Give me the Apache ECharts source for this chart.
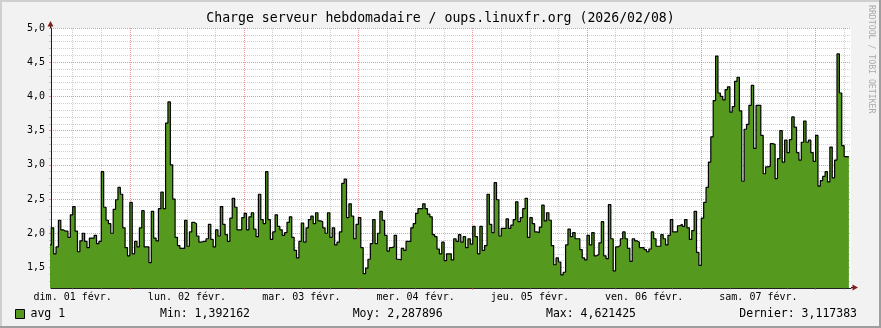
<!DOCTYPE html>
<html><head><meta charset="utf-8">
<script src="https://cdn.jsdelivr.net/npm/echarts@6/dist/echarts.min.js"></script>
<style>html,body{margin:0;padding:0;background:#F2F2F2;}#c{width:881px;height:328px;}</style>
</head><body><div id="c"></div>
<script>
// ---- data (hours counted from Sun 01 Feb 2026 00:00) ----
const startHour = 7.0;      // first (partial) 30-min sample
const stepHours = 0.5;
const loadValues = [
1.83,
2.08,1.70,1.80,2.19,2.05,2.03,2.03,1.94,2.27,2.39,2.03,1.73,1.89,2.00,1.88,1.79,1.93,1.93,1.97,1.85,
1.88,2.90,2.38,2.19,2.14,2.00,2.35,2.49,2.67,2.57,2.08,1.79,1.67,2.45,1.70,1.88,1.80,2.08,2.33,1.80,
1.80,1.57,2.32,1.93,1.89,2.36,2.60,2.36,3.61,3.92,3.00,2.50,1.94,1.82,1.78,1.78,
2.19,1.81,2.02,2.16,2.14,1.96,1.87,1.88,1.88,1.92,2.13,1.91,1.80,2.05,1.96,2.39,2.13,1.98,1.88,2.22,
2.51,2.38,2.05,2.05,2.23,2.29,2.05,2.24,2.30,2.06,1.95,2.57,2.20,2.14,2.90,2.20,1.91,2.02,2.27,2.10,
2.05,1.97,2.01,2.16,2.24,1.94,1.75,1.64,1.88,2.15,1.87,2.08,2.20,2.25,2.14,2.30,
2.18,2.17,2.08,2.00,2.30,1.94,2.08,1.83,1.87,2.02,2.73,2.79,2.23,2.43,2.25,1.92,2.13,2.23,1.79,1.41,
1.49,1.62,1.85,2.20,1.85,2.00,2.32,2.19,1.97,1.74,1.79,1.80,1.97,1.62,1.61,1.78,1.75,1.88,1.88,2.08,
2.14,2.29,2.36,2.36,2.43,2.36,2.28,2.24,1.98,1.95,1.77,1.70,1.87,1.60,1.70,
1.70,
1.61,1.92,1.88,1.98,1.87,1.95,1.79,1.92,1.84,2.10,1.95,1.70,2.10,1.75,1.82,2.57,2.13,2.01,2.74,2.49,
1.96,2.07,2.07,2.21,2.07,2.12,2.20,2.46,2.17,2.23,2.36,2.51,1.94,2.23,2.14,2.02,2.01,2.09,2.41,2.18,
2.30,2.19,1.82,1.54,1.64,1.58,1.392,1.43,1.83,2.06,1.95,2.01,1.92,1.92,1.76,1.64,1.61,
1.97,1.83,2.01,1.67,1.69,1.86,2.17,1.67,1.63,2.42,1.92,1.45,1.80,1.82,1.92,2.02,1.92,1.78,1.59,1.92,
1.89,1.87,1.79,1.79,1.76,1.73,1.77,2.02,1.92,1.81,1.81,1.98,1.92,1.83,1.97,2.20,2.02,2.02,2.11,2.13,
2.10,2.20,2.08,1.91,2.04,2.32,1.72,1.53,2.22,2.45,2.67,3.04,3.41,3.94,
4.59,4.05,4.00,3.95,4.10,4.14,3.77,3.85,4.22,4.28,3.79,2.76,3.52,3.59,3.87,4.16,3.24,3.87,3.87,3.43,
2.87,2.97,2.98,3.31,3.30,2.80,3.09,3.50,3.04,3.36,3.18,3.37,3.70,3.55,3.18,3.07,3.33,3.64,3.33,3.36,
3.18,3.05,3.43,2.69,2.77,2.83,2.90,2.75,3.26,2.81,3.07,4.621,4.05,3.28,3.12,3.117
];
const dayLabels = ['dim. 01 févr.','lun. 02 févr.','mar. 03 févr.','mer. 04 févr.','jeu. 05 févr.','ven. 06 févr.','sam. 07 févr.'];
const dayLabelHours = [12,36,60,84,108,132,156];
const midnightHours = [24,48,72,96,120,144,168];
const sixHourTicks = [12,18,30,36,42,54,60,66,78,84,90,102,108,114,126,132,138,150,156,162,174];
const yMajorTicks = [1.5,2.0,2.5,3.0,3.5,4.0,4.5,5.0];
const yMinorTicks = [1.3,1.4,1.6,1.7,1.8,1.9,2.1,2.2,2.3,2.4,2.6,2.7,2.8,2.9,3.1,3.2,3.3,3.4,3.6,3.7,3.8,3.9,4.1,4.2,4.3,4.4,4.6,4.7,4.8,4.9];
const titleText = 'Charge serveur hebdomadaire / oups.linuxfr.org (2026/02/08)';
const seriesName = 'avg 1';
const statNames = ['Min','Moy','Max','Dernier'];
const statValues = ['1,392162','2,287896','4,621425','3,117383'];

// ---- view ----
const X_MIN = 7.44, X_MAX = 175.44, Y_MIN = 1.2, Y_MAX = 5.0;
const GRID_C = 'rgba(143,143,143,0.42)';
const MGRID_C = 'rgba(222,79,79,0.6)';
const AXIS_C = '#1f1f1f';
const FILL = '#55991E';
const MONO = 'DejaVu Sans Mono';

const seriesData = loadValues.map((v, i) => [startHour + i * stepHours, v]);
seriesData.push([startHour + loadValues.length * stepHours, loadValues[loadValues.length - 1]]);

const chart = echarts.init(document.getElementById('c'), null, {renderer: 'canvas'});
const statX = [160, 352.7, 546, 739.3];
const graphics = [
  {type:'text', left: 'center', top: 12, style:{text:titleText, font:'13.2px "'+MONO+'"', fill:'#000'}, z:10},
  {type:'text', x:871.5, y:5, rotation:-Math.PI/2, style:{text:'RRDTOOL / TOBI OETIKER', font:'8.2px "'+MONO+'"', fill:'#aaaaaa', textAlign:'left', textVerticalAlign:'middle'}, z:10},
  {type:'rect', shape:{x:15.5,y:309.5,width:9,height:9}, style:{fill:FILL, stroke:'#000', lineWidth:1}, z:10},
  {type:'text', x:30.5, y:314.5, style:{text:seriesName, font:'11.5px "'+MONO+'"', fill:'#000', textVerticalAlign:'middle'}, z:10},
  // axis arrows
  {type:'line', shape:{x1:50.5,y1:26,x2:50.5,y2:28}, style:{stroke:AXIS_C, lineWidth:1}, z:10},
  {type:'polygon', shape:{points:[[47.5,26.5],[53.5,26.5],[50.5,21]]}, style:{fill:'#801F1F'}, z:10},
  {type:'line', shape:{x1:851,y1:287.5,x2:853,y2:287.5}, style:{stroke:AXIS_C, lineWidth:1}, z:10},
  {type:'polygon', shape:{points:[[852.5,284.5],[852.5,290.5],[858,287.5]]}, style:{fill:'#801F1F'}, z:10},
  // frame shading
  {type:'rect', shape:{x:0,y:0,width:881,height:2}, style:{fill:'#CFCFCF'}, z:20},
  {type:'rect', shape:{x:0,y:0,width:2,height:328}, style:{fill:'#CFCFCF'}, z:20},
  {type:'rect', shape:{x:879,y:0,width:2,height:328}, style:{fill:'#9E9E9E'}, z:21},
  {type:'rect', shape:{x:0,y:326,width:881,height:2}, style:{fill:'#9E9E9E'}, z:21}
];
statNames.forEach((n, i) => {
  graphics.push({type:'text', x:statX[i], y:314.5, style:{text:n + ': ' + statValues[i], font:'11.5px "'+MONO+'"', fill:'#000', textVerticalAlign:'middle'}, z:10});
});

chart.setOption({
  animation: false,
  backgroundColor: '#F2F2F2',
  grid: {left:51, top:28, width:800, height:260, show:true, backgroundColor:'#ffffff', borderWidth:0},
  xAxis: [
    {type:'value', min:X_MIN, max:X_MAX, position:'bottom',
     axisLine:{show:false, onZero:false},
     axisTick:{show:true, customValues:sixHourTicks, length:2, lineStyle:{color:GRID_C}},
     axisLabel:{show:false},
     splitLine:{show:true, lineStyle:{color:GRID_C, width:1, type:[1,1]}}},
    {type:'value', min:X_MIN, max:X_MAX, position:'bottom',
     axisLine:{show:true, onZero:false, lineStyle:{color:AXIS_C, width:1}},
     axisTick:{show:true, customValues:midnightHours, length:2, lineStyle:{color:MGRID_C}},
     axisLabel:{show:true, customValues:dayLabelHours, margin:4, color:'#000', fontFamily:MONO, fontSize:10,
       formatter:(v) => dayLabels[Math.round((v - 12) / 24)] || ''},
     splitLine:{show:true, lineStyle:{color:MGRID_C, width:1, type:[1,1]}}}
  ],
  yAxis: [
    {type:'value', min:Y_MIN, max:Y_MAX, position:'left',
     axisLine:{show:false, onZero:false},
     axisTick:{show:true, customValues:yMinorTicks, length:2, lineStyle:{color:GRID_C}},
     axisLabel:{show:false},
     splitLine:{show:true, lineStyle:{color:GRID_C, width:1, type:[1,1]}}},
    {type:'value', min:Y_MIN, max:Y_MAX, position:'left',
     axisLine:{show:true, onZero:false, lineStyle:{color:AXIS_C, width:1}},
     axisTick:{show:true, customValues:yMajorTicks, length:2, lineStyle:{color:MGRID_C}},
     axisLabel:{show:true, customValues:yMajorTicks, margin:6, color:'#000', fontFamily:MONO, fontSize:10,
       formatter:(v) => v.toFixed(1).replace('.', ',')},
     splitLine:{show:true, lineStyle:{color:MGRID_C, width:1, type:[1,1]}}}
  ],
  series: [{
    name: seriesName, type:'line', xAxisIndex:0, yAxisIndex:0, step:'end',
    data: seriesData, showSymbol:false, symbol:'none', clip:true,
    lineStyle:{color:'#000', width:1.2},
    areaStyle:{color:FILL, opacity:1, origin:'start'},
    z: 3
  }],
  graphic: graphics
});
</script></body></html>
